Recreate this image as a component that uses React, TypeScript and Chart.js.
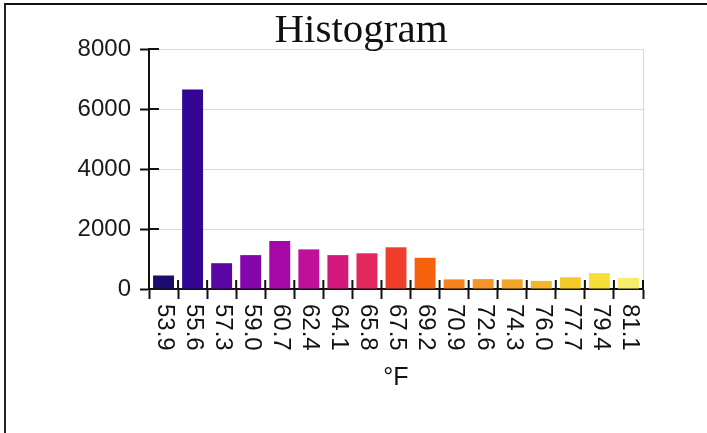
import React, { useEffect, useRef } from 'react';
import { Chart, registerables } from 'chart.js';

Chart.register(...registerables);

const categories = ['53.9', '55.6', '57.3', '59.0', '60.7', '62.4', '64.1', '65.8', '67.5', '69.2', '70.9', '72.6', '74.3', '76.0', '77.7', '79.4', '81.1'];
const counts = [450, 6650, 860, 1130, 1600, 1320, 1130, 1190, 1390, 1040, 320, 330, 320, 270, 390, 530, 370];
const barColors = ['#1b0c6e', '#320693', '#5a07a6', '#8306aa', '#a508a6', '#be109a', '#d5197c', '#e3275c', '#ef3e2c', '#f5620e', '#f5821c', '#f6932a', '#f5a42a', '#f3b52a', '#f7c82a', '#f7dd36', '#f6ee6a'];
const yTickValues = [0, 2000, 4000, 6000, 8000];
const titleText = 'Histogram';
const xTitleText = '°F';

const decorPlugin = {
  id: 'decor',
  afterDraw(chart: any) {
    const { ctx, chartArea, scales } = chart;
    const x = scales.x;
    const y = scales.y;
    ctx.save();
    ctx.strokeStyle = '#d4d4d4';
    ctx.lineWidth = 1;
    ctx.beginPath();
    ctx.moveTo(chartArea.right + 0.5, chartArea.top);
    ctx.lineTo(chartArea.right + 0.5, chartArea.bottom);
    ctx.stroke();
    ctx.strokeStyle = '#111';
    ctx.lineWidth = 2;
    y.ticks.forEach((t: any) => {
      const py = y.getPixelForValue(t.value);
      ctx.beginPath();
      ctx.moveTo(chartArea.left, py);
      ctx.lineTo(chartArea.left + 10, py);
      ctx.stroke();
    });
    for (let i = 0; i <= categories.length; i++) {
      const px = x.getPixelForValue(i - 0.5);
      ctx.beginPath();
      ctx.moveTo(px, chartArea.bottom);
      ctx.lineTo(px, chartArea.bottom - 9);
      ctx.stroke();
    }
    ctx.fillStyle = '#111';
    ctx.font = "24px 'Liberation Sans', sans-serif";
    ctx.textAlign = 'left';
    ctx.textBaseline = 'middle';
    categories.forEach((lab, i) => {
      const px = x.getPixelForValue(i);
      ctx.save();
      ctx.translate(px + 1, chartArea.bottom + 15);
      ctx.rotate(Math.PI / 2);
      ctx.fillText(lab, 0, 0);
      ctx.restore();
    });
    ctx.restore();
  },
};

export default function App() {
  const ref = useRef<HTMLCanvasElement | null>(null);

  useEffect(() => {
    if (!ref.current) return;
    const chart = new Chart(ref.current, {
      type: 'bar',
      data: {
        labels: categories,
        datasets: [
          {
            data: counts,
            backgroundColor: barColors,
            borderWidth: 0,
            categoryPercentage: 0.8,
            barPercentage: 0.9,
          },
        ],
      },
      options: {
        animation: false,
        responsive: false,
        maintainAspectRatio: false,
        layout: { padding: { left: 15, right: 0, top: 0, bottom: 0 } },
        plugins: {
          legend: { display: false },
          tooltip: { enabled: false },
          title: {
            display: true,
            text: titleText,
            color: '#111',
            font: { family: "'Liberation Serif', serif", size: 41, weight: 'normal', lineHeight: 36 / 41 },
            padding: { top: 13, bottom: 0 },
          },
        },
        scales: {
          x: {
            type: 'category',
            offset: true,
            grid: {
              offset: true,
              drawOnChartArea: false,
              drawTicks: true,
              tickLength: 10,
              tickColor: '#111',
              tickWidth: 2,
            },
            border: { display: true, color: '#111', width: 2 },
            ticks: { display: false },
            title: {
              display: true,
              text: xTitleText,
              color: '#111',
              font: { family: "'Liberation Sans', sans-serif", size: 25, lineHeight: 1.2 },
              padding: { top: 0, bottom: 40 },
            },
            afterFit: (scale: any) => {
              scale.height = 144;
            },
          },
          y: {
            min: 0,
            max: 8000,
            afterBuildTicks: (scale: any) => {
              scale.ticks = yTickValues.map((v) => ({ value: v }));
            },
            grid: {
              color: '#d9d9d9',
              lineWidth: 1,
              tickColor: '#111',
              tickWidth: 2,
              tickLength: 9,
            },
            border: { display: true, color: '#111', width: 2 },
            ticks: {
              color: '#1a1a1a',
              padding: 9,
              font: { family: "'Liberation Sans', sans-serif", size: 24 },
              callback: (v: any) => String(v),
            },
            afterFit: (scale: any) => {
              scale.width = 134;
            },
          },
          yRight: {
            type: 'linear',
            position: 'right',
            display: true,
            grid: { drawOnChartArea: false, drawTicks: false },
            border: { display: false },
            ticks: { display: false },
            afterFit: (scale: any) => {
              scale.width = 64;
            },
          },
        },
      },
      plugins: [decorPlugin],
    });
    return () => chart.destroy();
  }, []);

  return (
    <div style={{ position: 'fixed', left: 0, top: 0, width: 707, height: 433, overflow: 'hidden', background: '#fff' }}>
      <canvas ref={ref} width={707} height={433} style={{ position: 'absolute', left: 0, top: 0, width: 707, height: 433 }} />
      <div
        style={{
          position: 'absolute',
          left: 4,
          top: 3,
          width: 900,
          height: 800,
          borderTop: '2px solid #111',
          borderLeft: '2px solid #222',
          borderRight: 'none',
          borderBottom: 'none',
          boxSizing: 'content-box',
          pointerEvents: 'none',
        }}
      />
    </div>
  );
}
